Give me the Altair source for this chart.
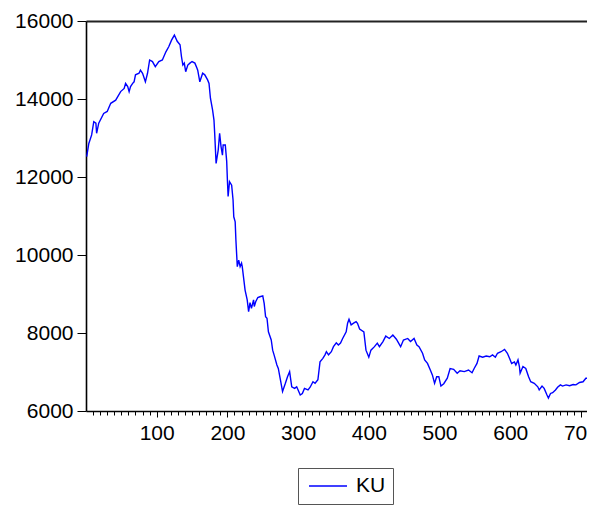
import altair as alt
import pandas as pd

obs = [1, 4, 8, 11, 14, 15, 18, 25, 30, 35, 42, 49, 54, 56, 59, 61, 63, 66, 68, 70,
       75, 77, 80, 84, 87, 90, 94, 98, 103, 108, 113, 117, 121, 125, 129, 133, 135, 137, 139, 141,
       144, 147, 150, 154, 157, 158, 161, 165, 168, 172, 174, 176, 179, 181, 182, 184, 187, 189, 191, 193,
       194, 197, 199, 200, 201, 203, 206, 208, 209, 211, 212, 214, 216, 218, 220, 221, 225, 228, 230, 232,
       234, 237, 238, 240, 243, 246, 250, 252, 254, 256, 258, 262, 264, 266, 270, 272, 275, 278, 282, 285,
       288, 291, 295, 298, 300, 303, 306, 309, 314, 317, 321, 324, 328, 331, 335, 338, 340, 343, 347, 350,
       354, 357, 360, 363, 368, 370, 372, 375, 379, 382, 384, 387, 393, 396, 400, 403, 408, 412, 415, 420,
       424, 429, 434, 439, 445, 449, 455, 459, 464, 468, 471, 476, 479, 483, 487, 490, 493, 496, 499, 502,
       506, 511, 515, 520, 525, 529, 535, 541, 546, 549, 553, 556, 561, 566, 571, 575, 579, 582, 587, 592,
       596, 599, 602, 606, 608, 611, 613, 614, 618, 622, 626, 629, 634, 639, 641, 645, 648, 652, 654, 657,
       660, 664, 667, 671, 674, 679, 684, 689, 693, 698, 703, 707, 712, 717, 720]
ku = [12520, 12860, 13080, 13420, 13380, 13120, 13380, 13630, 13680, 13890, 13970, 14190, 14270, 14400, 14320, 14190, 14320, 14400, 14440, 14620,
      14660, 14740, 14660, 14440, 14660, 15000, 14960, 14830, 14960, 15000, 15210, 15340, 15510, 15640, 15480, 15390, 15090, 14870, 14920, 14700,
      14870, 14920, 14960, 14920, 14790, 14740, 14440, 14660, 14620, 14490, 14400, 14020, 13720, 13460, 13120, 12350, 12690, 13120, 12780, 12560,
      12820, 12820, 12400, 11920, 11500, 11880, 11790, 11410, 10980, 10850, 10390, 9700, 9870, 9700, 9790, 9700, 9100, 8850, 8550, 8780,
      8630, 8850, 8680, 8800, 8910, 8930, 8950, 8760, 8420, 8380, 8030, 7820, 7560, 7440, 7180, 7090, 6800, 6500, 6710, 6880,
      7010, 6620, 6580, 6620, 6540, 6410, 6450, 6580, 6540, 6610, 6750, 6710, 6800, 7260, 7350, 7440, 7520, 7440, 7520, 7650,
      7750, 7690, 7740, 7860, 8030, 8250, 8350, 8210, 8260, 8290, 8250, 8100, 8030, 7560, 7380, 7560, 7650, 7740, 7650, 7780,
      7920, 7860, 7950, 7840, 7650, 7820, 7860, 7780, 7860, 7690, 7650, 7480, 7310, 7220, 7050, 6920, 6710, 6880, 6880, 6640,
      6700, 6840, 7090, 7070, 6970, 7030, 7010, 7050, 6980, 7090, 7220, 7410, 7380, 7410, 7390, 7440, 7380, 7480, 7520, 7580,
      7480, 7350, 7220, 7260, 7180, 7310, 7140, 6970, 7140, 7090, 6880, 6750, 6710, 6620, 6540, 6640, 6580, 6410, 6330, 6450,
      6470, 6540, 6610, 6670, 6640, 6670, 6650, 6680, 6670, 6730, 6750, 6840, 6840, 6970, 6920]
series_name = ["KU"] * len(obs)

x_ticks = list(range(10, 710, 10))
y_ticks = [6000, 8000, 10000, 12000, 14000, 16000]

df = pd.DataFrame({"t": obs, "v": ku, "series": series_name})

FONT = "Liberation Sans"
xscale = alt.Scale(domain=[0, 708.6], nice=False, zero=False)

line = alt.Chart(df).mark_line(color="#0000ff", strokeWidth=1.4, clip=True).encode(
    x=alt.X("t:Q", scale=xscale, title=None,
            axis=alt.Axis(values=x_ticks, labelExpr="datum.value % 100 === 0 ? datum.label : ''",
                          tickSize={"condition": {"test": "datum.value % 100 === 0", "value": 6}, "value": 4},
                          labelOverlap=False, labelFlush=False, labelPadding=5, grid=False,
                          domainColor="black", domainWidth=1.6, tickColor="black", tickWidth=1,
                          labelFont=FONT, labelFontSize=21, labelColor="black")),
    y=alt.Y("v:Q", scale=alt.Scale(domain=[6000, 16000], nice=False, zero=False), title=None,
            axis=alt.Axis(values=y_ticks, format="d", tickSize=9, labelPadding=4, grid=False,
                          domainColor="black", domainWidth=1.6, tickColor="black", tickWidth=1,
                          labelFont=FONT, labelFontSize=21, labelColor="black")),
    color=alt.Color("series:N", scale=alt.Scale(range=["#0000ff"]),
                    legend=alt.Legend(title=None, orient="none", legendX=212, legendY=447,
                                      symbolType="M-2,0L2,0", symbolSize=361, symbolStrokeWidth=1.5,
                                      symbolOffset=12,
                                      labelFont=FONT, labelFontSize=21, labelColor="black",
                                      labelOffset=17.5, padding=7.5, strokeColor="#555",
                                      fillColor="white")),
)

top = alt.Chart(df).mark_point(opacity=0, clip=True).encode(
    x=alt.X("t:Q", scale=xscale, title=None,
            axis=alt.Axis(orient="top", labels=False, ticks=False, grid=False,
                          domainColor="#222", domainWidth=2.2)),
)

chart = alt.layer(line, top).resolve_axis(x="independent").properties(
    width=501, height=390,
    autosize=alt.AutoSizeParams(type="none"),
    padding={"left": 78, "top": 13, "right": 0, "bottom": 94},
).configure_view(stroke=None)

chart.save("out.html", embed_options={"renderer": "svg", "actions": False})
